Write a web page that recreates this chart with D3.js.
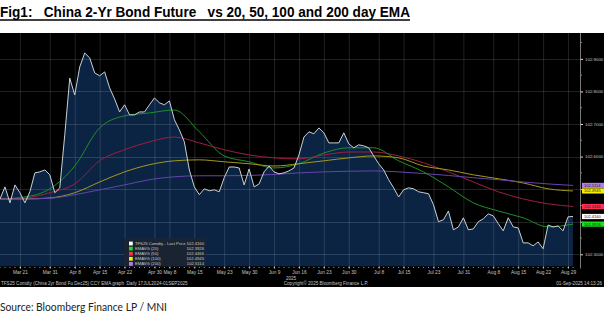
<!DOCTYPE html>
<html>
<head>
<meta charset="utf-8">
<script src="https://cdn.jsdelivr.net/npm/d3@7"></script>
<style>
  html, body { margin: 0; padding: 0; background: #ffffff; overflow: hidden; }
  svg { display: block; }
</style>
</head>
<body>
<svg id="chart" width="604" height="323"></svg>
<script>
// Trading sessions, 17 Mar 2025 - 01 Sep 2025
const tradingDays = [
  "2025-03-17","2025-03-18","2025-03-19","2025-03-20","2025-03-21","2025-03-24","2025-03-25","2025-03-26","2025-03-27","2025-03-28","2025-03-31",
  "2025-04-01","2025-04-02","2025-04-03","2025-04-07","2025-04-08","2025-04-09","2025-04-10","2025-04-11","2025-04-14","2025-04-15","2025-04-16",
  "2025-04-17","2025-04-18","2025-04-21","2025-04-22","2025-04-23","2025-04-24","2025-04-25","2025-04-28","2025-04-29","2025-04-30",
  "2025-05-06","2025-05-07","2025-05-08","2025-05-09","2025-05-12","2025-05-13","2025-05-14","2025-05-15","2025-05-16","2025-05-19",
  "2025-05-20","2025-05-21","2025-05-22","2025-05-23","2025-05-26","2025-05-27","2025-05-28","2025-05-29","2025-05-30",
  "2025-06-03","2025-06-04","2025-06-05","2025-06-06","2025-06-09","2025-06-10","2025-06-11","2025-06-12","2025-06-13","2025-06-16",
  "2025-06-17","2025-06-18","2025-06-19","2025-06-20","2025-06-23","2025-06-24","2025-06-25","2025-06-26","2025-06-27","2025-06-30",
  "2025-07-01","2025-07-02","2025-07-03","2025-07-04","2025-07-07","2025-07-08","2025-07-09","2025-07-10","2025-07-11","2025-07-14",
  "2025-07-15","2025-07-16","2025-07-17","2025-07-18","2025-07-21","2025-07-22","2025-07-23","2025-07-24","2025-07-25","2025-07-28",
  "2025-07-29","2025-07-30","2025-07-31","2025-08-01","2025-08-04","2025-08-05","2025-08-06","2025-08-07","2025-08-08","2025-08-11",
  "2025-08-12","2025-08-13","2025-08-14","2025-08-15","2025-08-18","2025-08-19","2025-08-20","2025-08-21","2025-08-22","2025-08-25",
  "2025-08-26","2025-08-27","2025-08-28","2025-08-29","2025-09-01"
];

// TFS25 Comdty last price, one value per session
const lastPrice = [
  102.470,102.507,102.458,102.513,102.489,102.458,102.492,102.550,102.553,102.559,102.544,
  102.489,102.504,102.667,102.841,102.789,102.875,102.918,102.903,102.857,102.848,102.860,
  102.811,102.777,102.737,102.759,102.728,102.728,102.737,102.737,102.759,102.780,
  102.765,102.759,102.771,102.713,102.682,102.645,102.559,102.507,102.483,102.501,
  102.495,102.498,102.492,102.535,102.568,102.568,102.565,102.513,102.562,
  102.507,102.516,102.553,102.571,102.553,102.547,102.550,102.556,102.565,102.605,
  102.660,102.676,102.670,102.688,102.673,102.642,102.642,102.642,102.673,102.639,
  102.627,102.636,102.633,102.627,102.602,102.578,102.559,102.529,102.504,102.476,
  102.498,102.504,102.501,102.492,102.489,102.486,102.452,102.400,102.406,102.433,
  102.375,102.384,102.412,102.375,102.378,102.400,102.409,102.424,102.418,102.394,
  102.372,102.412,102.384,102.381,102.335,102.335,102.326,102.338,102.317,102.390,
  102.384,102.387,102.372,102.415,102.416
];

// Sessions at which the moving averages are sampled
const emaDays = [
  "2025-03-17","2025-03-24","2025-03-31","2025-04-08","2025-04-15","2025-04-22","2025-04-29","2025-05-09",
  "2025-05-16","2025-05-23","2025-05-30","2025-06-09","2025-06-16","2025-06-23","2025-06-30","2025-07-07",
  "2025-07-14","2025-07-21","2025-07-28","2025-08-04","2025-08-11","2025-08-18","2025-08-25","2025-09-01"
];
const ema20 = [
  102.470,102.476,102.501,102.571,102.688,102.725,102.734,102.743,
  102.676,102.602,102.584,102.565,102.578,102.611,102.627,102.627,
  102.587,102.553,102.507,102.458,102.433,102.412,102.384,102.3926
];
const ema50 = [
  102.470,102.473,102.489,102.516,102.587,102.621,102.645,102.660,
  102.642,102.621,102.605,102.596,102.593,102.605,102.614,102.614,
  102.602,102.581,102.553,102.522,102.492,102.470,102.455,102.4466
];
const ema100 = [
  102.470,102.470,102.473,102.489,102.522,102.553,102.575,102.587,
  102.590,102.584,102.578,102.571,102.578,102.587,102.596,102.602,
  102.596,102.571,102.559,102.544,102.532,102.519,102.501,102.4945
];
const ema200 = [
  102.470,102.470,102.472,102.483,102.498,102.513,102.529,102.538,
  102.541,102.541,102.542,102.545,102.550,102.553,102.555,102.556,
  102.553,102.548,102.542,102.535,102.529,102.522,102.516,102.5114
];

const xTickDays = [
  "2025-03-21","2025-03-31","2025-04-08","2025-04-15","2025-04-22","2025-04-30","2025-05-08","2025-05-15",
  "2025-05-23","2025-05-30","2025-06-09","2025-06-16","2025-06-23","2025-06-30","2025-07-08","2025-07-15",
  "2025-07-23","2025-07-31","2025-08-08","2025-08-15","2025-08-22","2025-08-29"
];
const yTicks = [102.3, 102.4, 102.5, 102.6, 102.7, 102.8, 102.9];
const yMinorTicks = [102.35, 102.45, 102.55, 102.65, 102.75, 102.85, 102.95];

const seriesNames = ["TFS25 Comdty - Last Price", "EMAVG (20)", "EMAVG (50)", "EMAVG (100)", "EMAVG (200)"];
const lineColors = ["#c9d0d8", "#1c9126", "#9c2040", "#a5981f", "#6545aa"];
const tagColors  = ["#ffffff", "#19e019", "#ff2d55", "#f4f000", "#b27cf0"];

// ---- layout
const svg = d3.select("#chart");
const W = 604;
const panelTop = 33, panelBottom = 287;
const plotTop = 33, plotBottom = 266.5, plotRight = 580;

const parse = d3.timeParse("%Y-%m-%d");
const fmtTick = d3.timeFormat("%b %-d");
const fmtVal = d3.format(".4f");

const x = d3.scalePoint().domain(tradingDays).range([0, 573]);
const y = d3.scaleLinear().domain([102.2625, 102.9794]).range([plotBottom, plotTop]);

// title
svg.append("text")
  .attr("x", 0).attr("y", 16.5)
  .attr("font-family", "Liberation Sans, Arial, sans-serif")
  .attr("font-weight", "bold").attr("font-size", 15.5)
  .attr("textLength", 410).attr("lengthAdjust", "spacingAndGlyphs")
  .attr("fill", "#000")
  .attr("xml:space", "preserve")
  .text("Fig1:   China 2-Yr Bond Future   vs 20, 50, 100 and 200 day EMA");
svg.append("line").attr("x1", 0).attr("x2", 410).attr("y1", 20).attr("y2", 20)
  .attr("stroke", "#000").attr("stroke-width", 1.3);

// terminal panel
svg.append("rect").attr("x", 0).attr("y", panelTop).attr("width", W).attr("height", panelBottom - panelTop)
  .attr("fill", "#000");

svg.append("defs").append("clipPath").attr("id", "plotClip")
  .append("rect").attr("x", 0).attr("y", plotTop).attr("width", plotRight).attr("height", plotBottom - plotTop);

const plot = svg.append("g").attr("clip-path", "url(#plotClip)");

const priceData = tradingDays.map((d, i) => ({ d, v: lastPrice[i] }));

// filled area under price
plot.append("path")
  .datum(priceData)
  .attr("fill", "#0b2444")
  .attr("d", d3.area().x(p => x(p.d)).y0(plotBottom).y1(p => y(p.v)));

// grid
plot.append("g").selectAll("line").data(xTickDays).join("line")
  .attr("x1", d => x(d) + 0.5).attr("x2", d => x(d) + 0.5)
  .attr("y1", plotTop).attr("y2", plotBottom)
  .attr("stroke", "#ffffff").attr("stroke-opacity", 0.13).attr("stroke-width", 1);
plot.append("g").selectAll("line").data(yTicks).join("line")
  .attr("x1", 0).attr("x2", plotRight)
  .attr("y1", d => Math.round(y(d)) + 0.5).attr("y2", d => Math.round(y(d)) + 0.5)
  .attr("stroke", "#ffffff").attr("stroke-opacity", 0.13).attr("stroke-width", 1);

// moving averages
const emaSeries = [ema20, ema50, ema100, ema200];
emaSeries.forEach((vals, k) => {
  plot.append("path")
    .datum(emaDays.map((d, i) => ({ d, v: vals[i] })))
    .attr("fill", "none")
    .attr("stroke", lineColors[k + 1])
    .attr("stroke-width", 1)
    .attr("d", d3.line().x(p => x(p.d)).y(p => y(p.v)).curve(d3.curveMonotoneX));
});

// price line
plot.append("path")
  .datum(priceData)
  .attr("fill", "none")
  .attr("stroke", lineColors[0])
  .attr("stroke-width", 1)
  .attr("d", d3.line().x(p => x(p.d)).y(p => y(p.v)));

// last values of every series (legend + axis tags)
const lastValues = [lastPrice, ...emaSeries].map(a => a[a.length - 1]);
const tagY = lastValues.map(v => y(v));

// right value axis; labels sitting under a value tag are hidden by it
const yAxis = d3.axisRight(y).tickValues(yTicks).tickSize(2.5).tickPadding(2)
  .tickFormat(v => tagY.some(t => Math.abs(t - y(v)) < 6) ? "" : fmtVal(v));
const gy = svg.append("g").attr("transform", `translate(${plotRight + 0.5},0)`).call(yAxis);
gy.select(".domain").attr("stroke", "#7a7a7a").attr("d", `M0,${plotTop}V${plotBottom + 2}`);
gy.selectAll(".tick line").attr("stroke", "#dddddd");
gy.selectAll(".tick text").attr("fill", "#c4c4c4")
  .attr("font-family", "Liberation Sans, Arial, sans-serif").attr("font-size", 4.4);
svg.append("g").selectAll("line").data(yMinorTicks).join("line")
  .attr("x1", plotRight + 0.5).attr("x2", plotRight + 2)
  .attr("y1", d => y(d)).attr("y2", d => y(d))
  .attr("stroke", "#9a9a9a").attr("stroke-width", 0.8);

// time axis
const xAxis = d3.axisBottom(x).tickValues(xTickDays).tickFormat(d => fmtTick(parse(d))).tickSize(2).tickPadding(2);
const gx = svg.append("g").attr("transform", `translate(0,${plotBottom})`).call(xAxis);
gx.select(".domain").remove();
gx.selectAll(".tick line").attr("stroke", "#d0d0d0");
gx.selectAll(".tick text").attr("fill", "#c4c4c4")
  .attr("font-family", "Liberation Sans, Arial, sans-serif").attr("font-size", 4.8);
svg.append("g").selectAll("line").data(tradingDays).join("line")
  .attr("x1", d => x(d)).attr("x2", d => x(d))
  .attr("y1", plotBottom + 0.5).attr("y2", plotBottom + 1.5)
  .attr("stroke", "#bfbfbf").attr("stroke-width", 0.8);
svg.append("text").attr("x", 291).attr("y", 279.5)
  .attr("text-anchor", "middle").attr("fill", "#c4c4c4")
  .attr("font-family", "Liberation Sans, Arial, sans-serif").attr("font-size", 4.6)
  .text("2025");

// legend
const lg = svg.append("g");
lg.append("rect").attr("x", 124).attr("y", 238.5).attr("width", 82).attr("height", 28)
  .attr("fill", "#1b2431").attr("fill-opacity", 0.95);
seriesNames.forEach((name, k) => {
  const cy = 243.5 + k * 5.1;
  lg.append("rect").attr("x", 129).attr("y", cy - 1.9).attr("width", 3.8).attr("height", 3.8)
    .attr("fill", tagColors[k]);
  lg.append("text").attr("x", 135).attr("y", cy + 1.5)
    .attr("fill", "#c8c8c8").attr("font-family", "Liberation Sans, Arial, sans-serif").attr("font-size", 4.2)
    .text(name);
  lg.append("text").attr("x", 204).attr("y", cy + 1.5).attr("text-anchor", "end")
    .attr("fill", "#c8c8c8").attr("font-family", "Liberation Sans, Arial, sans-serif").attr("font-size", 4.2)
    .text(fmtVal(lastValues[k]));
});

// last-value tags on the value axis
const tg = svg.append("g");
lastValues.forEach((v, k) => {
  tg.append("rect").attr("x", 582).attr("y", y(v) - 2.6).attr("width", 22).attr("height", 5.2)
    .attr("fill", tagColors[k]);
  tg.append("text").attr("x", 584).attr("y", y(v) + 1.4)
    .attr("fill", "#222").attr("font-family", "Liberation Sans, Arial, sans-serif").attr("font-size", 4)
    .text(fmtVal(v));
});

// footer lines of the terminal panel
const foot = svg.append("g").attr("fill", "#c4c4c4")
  .attr("font-family", "Liberation Sans, Arial, sans-serif").attr("font-size", 4.6);
foot.append("text").attr("x", 1).attr("y", 285)
  .attr("xml:space", "preserve")
  .text("TFS25 Comdty (China 2yr Bond Fu Dec25) CCY EMA graph  Daily 17JUL2024-01SEP2025");
foot.append("text").attr("x", 326).attr("y", 285).attr("text-anchor", "middle")
  .text("Copyright\u00A9 2025 Bloomberg Finance L.P.");
foot.append("text").attr("x", 602).attr("y", 285).attr("text-anchor", "end")
  .text("01-Sep-2025 14:13:26");

// source note
svg.append("text").attr("x", 0).attr("y", 310.5)
  .attr("font-family", "Lato, 'Open Sans', sans-serif").attr("font-size", 10.5)
  .attr("textLength", 167).attr("lengthAdjust", "spacingAndGlyphs")
  .attr("fill", "#222")
  .text("Source: Bloomberg Finance LP / MNI");
</script>
</body>
</html>
